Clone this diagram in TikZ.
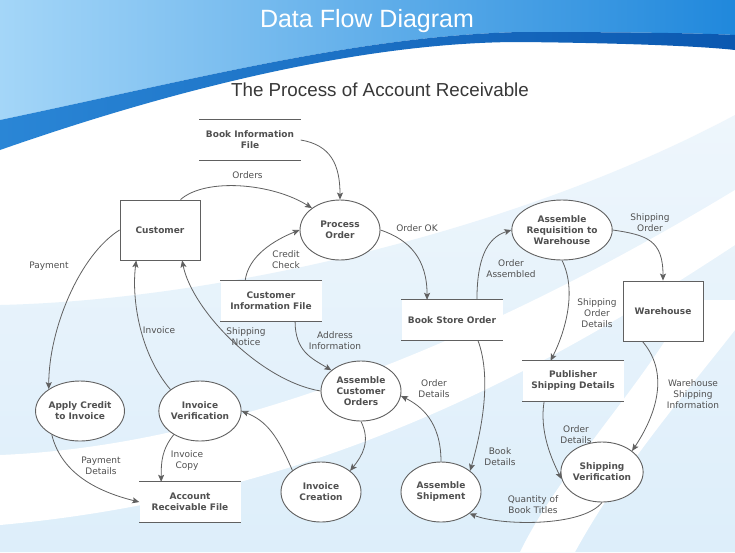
\documentclass[tikz,border=0pt]{standalone}
\usepackage{fontspec}
\setmainfont{DejaVu Sans}
\newfontfamily\titlefont{Liberation Sans}
\usetikzlibrary{arrows.meta,shapes.geometric}
\definecolor{ink}{HTML}{505050}
\definecolor{edgec}{HTML}{606060}
\definecolor{bgl}{HTML}{DDEEFA}
\definecolor{bgm}{HTML}{EEF6FC}
\definecolor{topL}{HTML}{A4D6F8}
\definecolor{topR}{HTML}{2088DC}
\definecolor{strL}{HTML}{2A86D6}
\definecolor{strR}{HTML}{0B58B0}
\definecolor{subc}{HTML}{383838}
\begin{document}
\begin{tikzpicture}[x=1pt,y=-1pt,
  nfont/.style={font=\fontsize{9}{11}\selectfont\bfseries},
  proc/.style={ellipse, draw=edgec, line width=0.9pt, fill=white, minimum width=80pt, minimum height=60pt, inner sep=0pt, align=center, text=ink, nfont},
  ent/.style={rectangle, draw=edgec, line width=0.9pt, fill=white, minimum width=80pt, minimum height=60pt, inner sep=0pt, align=center, text=ink, nfont},
  store/.style={rectangle, fill=white, minimum width=101pt, minimum height=40pt, inner sep=0pt, align=center, text=ink, nfont},
  sline/.style={draw=edgec, line width=0.9pt},
  lbl/.style={align=center, text=ink, inner sep=0pt, font=\fontsize{9}{11}\selectfont},
  arr/.style={draw=edgec, line width=0.8pt, -{Stealth[length=7pt,width=6pt,inset=1.5pt]}}
]
\useasboundingbox (0,0) rectangle (735,552);
% ---------- background ----------
\fill[white] (0,0) rectangle (735,552);
\shade[top color=bgm, bottom color=bgl] (0,305) .. controls (220,300) and (520,230) .. (735,115) -- (735,552) -- (0,552) -- cycle;
\fill[white] (0,455) .. controls (250,445) and (520,320) .. (735,190) -- (735,245) .. controls (560,360) and (330,495) .. (0,525) -- cycle;
\fill[white] (690,300) .. controls (640,390) and (560,470) .. (520,552) -- (575,552) .. controls (620,470) and (680,400) .. (735,330) -- (735,300) -- cycle;
\shade[left color=topL, right color=topR] (0,0) -- (735,0) -- (735,35) .. controls (700,33) and (620,32) .. (520,32) .. controls (360,36) and (200,78) .. (0,120) -- cycle;
\shade[left color=strL, right color=strR] (0,120) .. controls (200,78) and (360,36) .. (520,32) .. controls (620,32) and (700,33) .. (735,35) -- (735,50) .. controls (700,46) and (620,43) .. (520,42) .. controls (380,42) and (200,80) .. (0,150) -- cycle;
% ---------- titles ----------
\node[anchor=base, text=white, font=\titlefont\fontsize{25}{30}\selectfont] (title) at (367,27.5) {Data Flow Diagram};
\node[anchor=base, text=subc, font=\titlefont\fontsize{18.8}{22}\selectfont] (subtitle) at (380,96) {The Process of Account Receivable};
% ---------- nodes ----------
\node[ent] (cu) at (160,230) {Customer};
\node[ent] (wh) at (663,311) {Warehouse};
\node[proc] (po) at (340,230) {Process\\Order};
\node[proc] (ar) at (562,230) {Assemble\\Requisition to\\Warehouse};
\node[proc] (aci) at (80,411) {Apply Credit\\to Invoice};
\node[proc] (iv) at (200,411) {Invoice\\Verification};
\node[proc] (aco) at (361,391) {Assemble\\Customer\\Orders};
\node[proc] (ic) at (321,492) {Invoice\\Creation};
\node[proc] (as) at (441,492) {Assemble\\Shipment};
\node[proc] (sv) at (602,472) {Shipping\\Verification};
\node[store] (bif) at (250,140) {Book Information\\File};
\node[store] (cif) at (271,301) {Customer\\Information File};
\node[store] (bso) at (452,320) {Book Store Order};
\node[store] (psd) at (573,381) {Publisher\\Shipping Details};
\node[store] (arf) at (190,502) {Account\\Receivable File};
\foreach \s in {bif,cif,bso,psd,arf}{
  \draw[sline] (\s.north west) -- (\s.north east) (\s.south west) -- (\s.south east);
}
% ---------- flows ----------
\draw[arr] (bif.east) .. controls +(30,5) and +(0,-35) .. (po.north);
\draw[arr] (cu.56) .. controls +(25,-22) and +(-40,-25) .. (po.142);
\draw[arr] (cif.142) .. controls +(3,-25) and +(-25,10) .. (po.west);
\draw[arr] (po.east) .. controls +(30,10) and +(0,-40) .. (bso.141);
\draw[arr] (bso.39) .. controls +(0,-40) and +(-25,8) .. (ar.west);
\draw[arr] (ar.east) .. controls +(35,5) and +(0,-40) .. (wh.north);
\draw[arr] (ar.south) .. controls +(15,30) and +(15,-30) .. (psd.138);
\draw[arr] (wh.236) .. controls +(30,35) and +(20,-30) .. (sv.35);
\draw[arr] (psd.215) .. controls +(-5,30) and +(-10,-20) .. (sv.190);
\draw[arr] (sv.south) .. controls +(-20,25) and +(30,12) .. (as.-37);
\draw[arr] (bso.-38) .. controls +(15,40) and +(10,-35) .. (as.36);
\draw[arr] (as.north) .. controls +(0,-40) and +(20,10) .. (aco.-7);
\draw[arr] (cif.-40) .. controls +(0,30) and +(-20,-12) .. (aco.145);
\draw[arr] (aco.west) .. controls +(-60,-10) and +(10,50) .. (cu.-54);
\draw[arr] (iv.144) .. controls +(-30,-35) and +(-5,40) .. (cu.232);
\draw[arr] (cu.west) .. controls +(-40,25) and +(0,-60) .. (aci.145);
\draw[arr] (aci.220) .. controls +(10,40) and +(-40,-10) .. (arf.west);
\draw[arr] (iv.222) .. controls +(-12,15) and +(0,-20) .. (arf.145);
\draw[arr] (aco.south) .. controls +(10,20) and +(12,-15) .. (ic.36);
\draw[arr] (ic.143) .. controls +(-15,-35) and +(25,10) .. (iv.east);
% ---------- labels ----------
\node[lbl] (l1) at (247.5,175) {Orders};
\node[lbl] (l2) at (417,228) {Order OK};
\node[lbl] (l3) at (286,260) {Credit\\Check};
\node[lbl] (l4) at (49,266) {Payment};
\node[lbl] (l5) at (159,330) {Invoice};
\node[lbl] (l6) at (246,337) {Shipping\\Notice};
\node[lbl] (l7) at (335,341) {Address\\Information};
\node[lbl] (l8) at (511,269) {Order\\Assembled};
\node[lbl] (l9) at (650,223) {Shipping\\Order};
\node[lbl] (l10) at (597,313) {Shipping\\Order\\Details};
\node[lbl] (l11) at (693,394) {Warehouse\\Shipping\\Information};
\node[lbl] (l12) at (434,389) {Order\\Details};
\node[lbl] (l13) at (576,435) {Order\\Details};
\node[lbl] (l14) at (500,457) {Book\\Details};
\node[lbl] (l15) at (101,466) {Payment\\Details};
\node[lbl] (l16) at (187,461) {Invoice\\Copy};
\node[lbl] (l17) at (533,505) {Quantity of\\Book Titles};
\end{tikzpicture}
\end{document}
